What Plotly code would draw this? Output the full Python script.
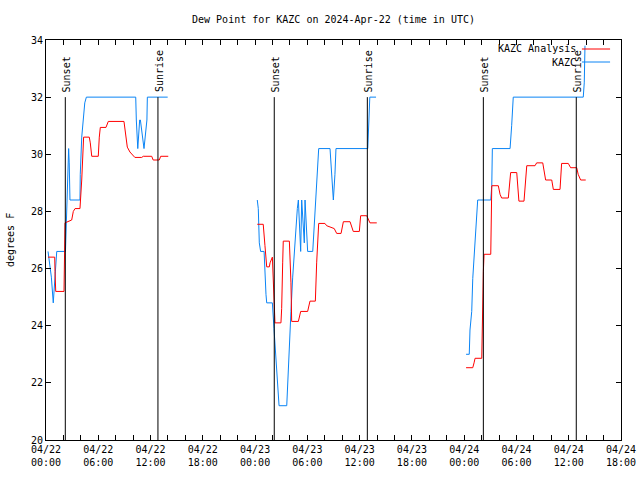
import plotly.graph_objects as go
import pandas as pd

# ---------------- data ----------------
title_text = "Dew Point for KAZC on 2024-Apr-22 (time in UTC)"
y_label = "degrees F"
series_names = ["KAZC Analysis", "KAZC"]

# KAZC observations (blue)
kazc_t = [
    # 04/22
    "2024-04-22 00:14", "2024-04-22 00:37", "2024-04-22 00:50", "2024-04-22 01:02", "2024-04-22 01:14",
    "2024-04-22 02:14", "2024-04-22 02:18", "2024-04-22 02:27", "2024-04-22 02:36", "2024-04-22 02:40",
    "2024-04-22 02:45", "2024-04-22 03:54", "2024-04-22 03:56", "2024-04-22 04:06", "2024-04-22 04:16",
    "2024-04-22 04:27", "2024-04-22 04:38", "2024-04-22 10:18", "2024-04-22 10:22", "2024-04-22 10:32",
    "2024-04-22 10:45", "2024-04-22 10:50", "2024-04-22 11:15", "2024-04-22 11:35", "2024-04-22 11:38",
    "2024-04-22 13:58",
    None,
    # 04/23
    "2024-04-23 00:15", "2024-04-23 00:22", "2024-04-23 00:29", "2024-04-23 00:38", "2024-04-23 01:02",
    "2024-04-23 01:08", "2024-04-23 01:15", "2024-04-23 01:20", "2024-04-23 01:59", "2024-04-23 02:10",
    "2024-04-23 02:17", "2024-04-23 02:24", "2024-04-23 02:33", "2024-04-23 02:40", "2024-04-23 02:45",
    "2024-04-23 03:38", "2024-04-23 03:45", "2024-04-23 03:54", "2024-04-23 04:00", "2024-04-23 04:07",
    "2024-04-23 04:19", "2024-04-23 04:30", "2024-04-23 04:42", "2024-04-23 04:51", "2024-04-23 04:58",
    "2024-04-23 05:05", "2024-04-23 05:14", "2024-04-23 05:21", "2024-04-23 05:32", "2024-04-23 05:39",
    "2024-04-23 05:44", "2024-04-23 05:51", "2024-04-23 05:55", "2024-04-23 06:02", "2024-04-23 06:37",
    "2024-04-23 06:46", "2024-04-23 06:53", "2024-04-23 07:00", "2024-04-23 07:09", "2024-04-23 07:18",
    "2024-04-23 08:36", "2024-04-23 08:43", "2024-04-23 08:50", "2024-04-23 08:54", "2024-04-23 08:59",
    "2024-04-23 09:10", "2024-04-23 09:17", "2024-04-23 12:56", "2024-04-23 13:02", "2024-04-23 13:06",
    "2024-04-23 13:10", "2024-04-23 13:53",
    None,
    # 04/24
    "2024-04-24 00:13", "2024-04-24 00:35", "2024-04-24 00:40", "2024-04-24 00:52", "2024-04-24 00:59",
    "2024-04-24 01:08", "2024-04-24 01:15", "2024-04-24 01:22", "2024-04-24 01:26", "2024-04-24 01:33",
    "2024-04-24 03:03", "2024-04-24 03:10", "2024-04-24 03:14", "2024-04-24 05:16", "2024-04-24 05:27",
    "2024-04-24 05:34", "2024-04-24 05:38", "2024-04-24 13:40", "2024-04-24 13:47", "2024-04-24 13:52",
]
kazc_v = [
    26.6, 25.7, 24.8, 25.7, 26.6,
    26.6, 27.3, 28.4, 30.2, 29.7,
    28.4, 28.4, 29.3, 30.6, 31.3,
    31.8, 32.0, 32.0, 31.2, 30.2,
    31.2, 31.2, 30.2, 31.2, 32.0,
    32.0,
    None,
    28.4, 28.1, 26.9, 26.6, 26.6,
    25.7, 25.1, 24.8, 24.8, 23.9,
    23.3, 22.7, 22.1, 21.5, 21.2,
    21.2, 22.1, 23.3, 23.9, 24.5,
    25.7, 26.6, 27.5, 28.1, 28.4,
    27.5, 26.6, 28.4, 27.5, 26.9,
    28.4, 27.5, 26.9, 26.6, 26.6,
    27.4, 28.1, 28.8, 29.3, 30.2,
    30.2, 29.7, 29.3, 28.7, 28.4,
    29.3, 30.2, 30.2, 30.8, 31.4,
    32.0, 32.0,
    None,
    23.0, 23.0, 23.85, 24.5, 25.65,
    26.35, 27.05, 27.6, 28.0, 28.4,
    28.4, 28.9, 30.2, 30.2, 31.0,
    31.6, 32.0, 32.0, 32.5, 33.8,
]

# KAZC Analysis (red)
analysis_t = [
    # 04/22
    "2024-04-22 00:14", "2024-04-22 01:00", "2024-04-22 01:02", "2024-04-22 01:07", "2024-04-22 02:04",
    "2024-04-22 02:08", "2024-04-22 02:11", "2024-04-22 02:57", "2024-04-22 03:08", "2024-04-22 03:20",
    "2024-04-22 03:54", "2024-04-22 04:06", "2024-04-22 04:13", "2024-04-22 04:19", "2024-04-22 04:58",
    "2024-04-22 05:05", "2024-04-22 05:15", "2024-04-22 06:00", "2024-04-22 06:07", "2024-04-22 06:14",
    "2024-04-22 06:53", "2024-04-22 07:09", "2024-04-22 08:57", "2024-04-22 09:11", "2024-04-22 09:20",
    "2024-04-22 09:38", "2024-04-22 10:12", "2024-04-22 10:59", "2024-04-22 11:10", "2024-04-22 12:08",
    "2024-04-22 12:18", "2024-04-22 13:00", "2024-04-22 13:10", "2024-04-22 14:02",
    None,
    # 04/23
    "2024-04-23 00:15", "2024-04-23 00:56", "2024-04-23 01:08", "2024-04-23 01:20", "2024-04-23 01:38",
    "2024-04-23 01:43", "2024-04-23 01:59", "2024-04-23 02:05", "2024-04-23 02:17", "2024-04-23 02:58",
    "2024-04-23 03:03", "2024-04-23 03:10", "2024-04-23 03:14", "2024-04-23 03:56", "2024-04-23 04:00",
    "2024-04-23 04:07", "2024-04-23 04:12", "2024-04-23 04:58", "2024-04-23 05:14", "2024-04-23 06:02",
    "2024-04-23 06:18", "2024-04-23 06:55", "2024-04-23 07:04", "2024-04-23 07:11", "2024-04-23 07:18",
    "2024-04-23 08:01", "2024-04-23 08:13", "2024-04-23 09:05", "2024-04-23 09:22", "2024-04-23 09:52",
    "2024-04-23 10:08", "2024-04-23 10:54", "2024-04-23 11:16", "2024-04-23 11:58", "2024-04-23 12:07",
    "2024-04-23 12:49", "2024-04-23 13:11", "2024-04-23 13:58",
    None,
    # 04/24
    "2024-04-24 00:13", "2024-04-24 00:59", "2024-04-24 01:08", "2024-04-24 01:15", "2024-04-24 02:01",
    "2024-04-24 02:05", "2024-04-24 02:12", "2024-04-24 02:17", "2024-04-24 03:03", "2024-04-24 03:10",
    "2024-04-24 03:55", "2024-04-24 04:07", "2024-04-24 04:18", "2024-04-24 05:04", "2024-04-24 05:11",
    "2024-04-24 05:20", "2024-04-24 06:02", "2024-04-24 06:08", "2024-04-24 06:17", "2024-04-24 06:52",
    "2024-04-24 06:59", "2024-04-24 07:11", "2024-04-24 08:08", "2024-04-24 08:19", "2024-04-24 09:01",
    "2024-04-24 09:10", "2024-04-24 09:21", "2024-04-24 10:03", "2024-04-24 10:14", "2024-04-24 11:00",
    "2024-04-24 11:11", "2024-04-24 11:57", "2024-04-24 12:13", "2024-04-24 12:55", "2024-04-24 13:05",
    "2024-04-24 13:22", "2024-04-24 13:57",
]
analysis_v = [
    26.4, 26.4, 25.9, 25.2, 25.2,
    26.4, 27.6, 27.7, 28.0, 28.1,
    28.1, 29.1, 30.0, 30.6, 30.6,
    30.4, 29.93, 29.93, 30.6, 30.94,
    30.94, 31.15, 31.15, 30.6, 30.25,
    30.08, 29.89, 29.89, 29.93, 29.93,
    29.8, 29.8, 29.93, 29.93,
    None,
    27.55, 27.55, 26.8, 26.06, 26.06,
    26.2, 26.4, 25.4, 24.1, 24.1,
    24.6, 26.2, 26.96, 26.96, 26.47,
    25.5, 24.15, 24.15, 24.5, 24.5,
    24.86, 24.86, 26.2, 27.1, 27.58,
    27.58, 27.5, 27.4, 27.23, 27.23,
    27.64, 27.64, 27.3, 27.3, 27.85,
    27.85, 27.6, 27.6,
    None,
    22.53, 22.53, 22.7, 22.86, 22.86,
    24.66, 25.9, 26.5, 26.5, 28.9,
    28.9, 28.6, 28.47, 28.47, 29.0,
    29.36, 29.36, 28.9, 28.36, 28.36,
    28.9, 29.6, 29.6, 29.7, 29.7,
    29.4, 29.1, 29.1, 28.77, 28.77,
    29.68, 29.68, 29.53, 29.53, 29.3,
    29.1, 29.1,
]

sunset_times = ["2024-04-22 02:13", "2024-04-23 02:12", "2024-04-24 02:12"]
sunrise_times = ["2024-04-22 12:51", "2024-04-23 12:53", "2024-04-24 12:52"]

x_start = "2024-04-22 00:00"
x_end = "2024-04-24 18:00"
y_min, y_max, y_step = 20, 34, 2
sun_marker_top = 32

red = "#ff0000"
blue = "#0a84f5"
font_family = "DejaVu Sans Mono, Liberation Mono, monospace"
fs = 10

# ---------------- figure ----------------
fig = go.Figure()
fig.add_trace(go.Scatter(x=kazc_t, y=kazc_v, mode="lines", name=series_names[1],
                         line=dict(color=blue, width=1), connectgaps=False))
fig.add_trace(go.Scatter(x=analysis_t, y=analysis_v, mode="lines", name=series_names[0],
                         line=dict(color=red, width=1), connectgaps=False))

shapes = []
annotations = []
for label, times in (("Sunset", sunset_times), ("Sunrise", sunrise_times)):
    for t in times:
        shapes.append(dict(type="line", xref="x", yref="y", x0=t, x1=t, y0=y_min, y1=sun_marker_top,
                           line=dict(color="black", width=1)))
        annotations.append(dict(x=t, y=sun_marker_top, xref="x", yref="y", text=label, textangle=-90,
                                showarrow=False, xanchor="center", yanchor="bottom", xshift=1, yshift=3,
                                font=dict(family=font_family, size=fs, color="black")))

# gnuplot-style legend: text on the left, sample line on the right
legend_rows = [(series_names[0], red, 0.9775), (series_names[1], blue, 0.945)]
for name, col, yy in legend_rows:
    annotations.append(dict(x=0.926, y=yy, xref="paper", yref="paper", text=name, showarrow=False,
                            xanchor="right", yanchor="middle",
                            font=dict(family=font_family, size=fs, color="black")))
    shapes.append(dict(type="line", xref="paper", yref="paper", x0=0.932, x1=0.981, y0=yy, y1=yy,
                       line=dict(color=col, width=1)))

# y-axis title placed like gnuplot's (far left)
annotations.append(dict(x=(10 - 46) / 575, y=0.5, xref="paper", yref="paper", text=y_label,
                        textangle=-90, showarrow=False, xanchor="center", yanchor="middle",
                        font=dict(family=font_family, size=fs, color="black")))

# x ticks every 2 hours, labels every 6 hours
tick_pos = pd.date_range(x_start, x_end, freq="2h")
tick_txt = [p.strftime("%m/%d<br>%H:%M") if p.hour % 6 == 0 else "" for p in tick_pos]

fig.update_layout(
    width=640, height=480,
    margin=dict(l=46, r=19, t=40, b=40, autoexpand=False),
    paper_bgcolor="white", plot_bgcolor="white",
    showlegend=False,
    title=dict(text=title_text, x=0.5, xref="paper", y=1 - 19 / 480, yref="container",
               xanchor="center", yanchor="middle",
               font=dict(family=font_family, size=fs, color="black")),
    font=dict(family=font_family, size=fs, color="black"),
    shapes=shapes,
    annotations=annotations,
    xaxis=dict(type="date", range=[x_start, x_end], tickmode="array",
               tickvals=list(tick_pos), ticktext=tick_txt, automargin=False,
               ticks="inside", ticklen=5, tickcolor="black", showgrid=False, zeroline=False,
               showline=True, linecolor="black", linewidth=1, mirror="ticks",
               tickfont=dict(family=font_family, size=fs, color="black")),
    yaxis=dict(range=[y_min, y_max], tickmode="linear", tick0=y_min, dtick=y_step, automargin=False,
               ticks="inside", ticklen=5, tickcolor="black", showgrid=False, zeroline=False,
               showline=True, linecolor="black", linewidth=1, mirror="ticks",
               tickfont=dict(family=font_family, size=fs, color="black")),
)

# remove the browser's default 8px body margin so the 640x480 figure fills the window
fig.write_html("out.html", config={"displayModeBar": False},
               post_script="document.body.style.margin='0';document.body.style.padding='0';")
